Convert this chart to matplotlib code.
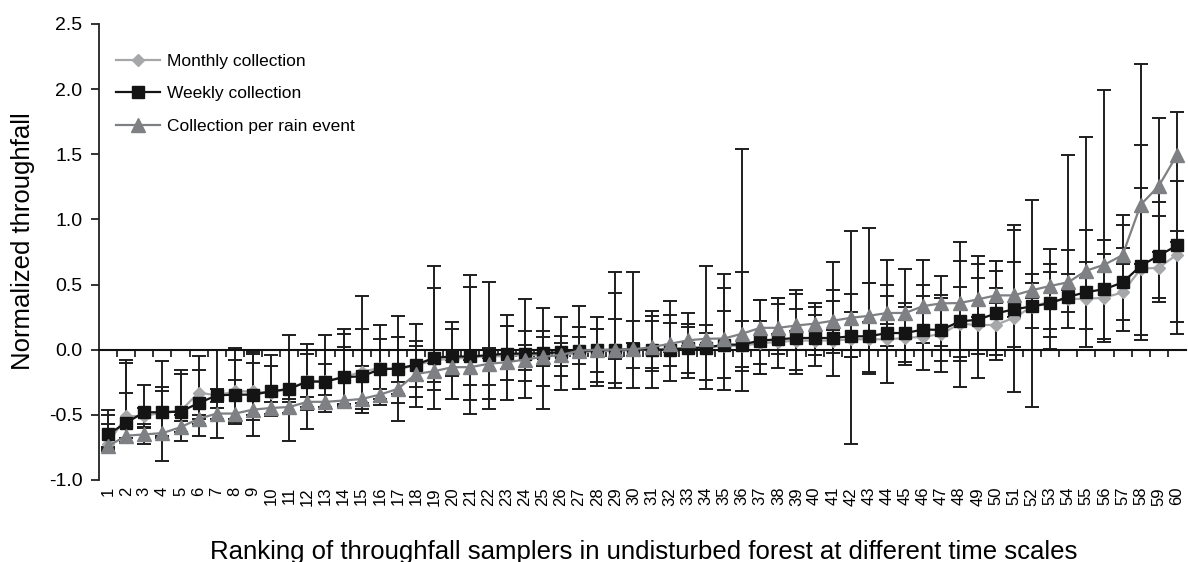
import numpy as np
import matplotlib
matplotlib.use("Agg")
import matplotlib.pyplot as plt
from matplotlib.ticker import FixedLocator, FormatStrFormatter

plt.rcParams['font.family'] = ['Liberation Sans', 'DejaVu Sans']

ranks = list(range(1, 61))

monthly = [-0.72,-0.51,-0.51,-0.48,-0.47,-0.33,-0.35,-0.32,-0.32,-0.33,
           -0.30,-0.24,-0.24,-0.21,-0.17,-0.14,-0.15,-0.12,-0.08,-0.07,
           -0.06,-0.05,-0.05,-0.04,-0.04,-0.05,-0.02,-0.01,-0.01,0.00,
           0.00,0.01,0.01,0.02,0.03,0.03,0.05,0.06,0.07,0.07,
           0.07,0.08,0.08,0.08,0.09,0.10,0.12,0.20,0.19,0.19,
           0.245,0.33,0.37,0.39,0.39,0.40,0.44,0.62,0.63,0.73]
weekly = [-0.65,-0.56,-0.48,-0.48,-0.475,-0.41,-0.35,-0.345,-0.345,-0.32,
          -0.30,-0.245,-0.245,-0.21,-0.205,-0.15,-0.145,-0.115,-0.062,-0.052,
          -0.052,-0.042,-0.03,-0.03,-0.026,-0.02,-0.01,-0.005,0.0,0.003,
          0.0,0.0,0.013,0.016,0.038,0.04,0.07,0.08,0.09,0.09,
          0.09,0.103,0.103,0.128,0.128,0.155,0.152,0.217,0.23,0.278,
          0.31,0.332,0.357,0.406,0.442,0.465,0.516,0.644,0.722,0.80]
rain = [-0.74,-0.66,-0.65,-0.64,-0.595,-0.53,-0.49,-0.49,-0.46,-0.447,
        -0.44,-0.40,-0.40,-0.39,-0.378,-0.345,-0.30,-0.186,-0.165,-0.134,
        -0.134,-0.108,-0.096,-0.076,-0.055,-0.04,-0.007,0.0,0.0,0.003,
        0.02,0.045,0.072,0.084,0.086,0.123,0.168,0.168,0.186,0.20,
        0.222,0.245,0.26,0.282,0.282,0.335,0.356,0.358,0.386,0.417,
        0.417,0.457,0.489,0.518,0.607,0.653,0.726,1.113,1.257,1.494]

# error bar ends (lower / upper cap positions)
weekly_lo = [-0.76,-0.715,-0.593,-0.856,-0.70,-0.662,-0.674,-0.567,-0.664,-0.51,
             -0.70,-0.608,-0.478,-0.44,-0.483,-0.427,-0.547,-0.44,-0.455,-0.375,
             -0.495,-0.455,-0.383,-0.373,-0.455,-0.306,-0.30,-0.28,-0.296,-0.296,
             -0.296,-0.243,-0.215,-0.30,-0.31,-0.32,-0.184,-0.14,-0.19,-0.128,
             -0.204,-0.725,-0.19,-0.258,-0.115,-0.156,-0.169,-0.284,-0.22,-0.079,
             -0.322,-0.442,0.005,0.17,0.018,0.056,0.146,0.077,0.363,0.12]
weekly_hi = [-0.465,-0.077,-0.268,-0.09,-0.153,-0.051,0.0,0.015,-0.018,-0.038,
             0.11,0.046,0.11,0.156,0.41,0.186,0.26,0.194,0.646,0.215,
             0.57,0.516,0.27,0.386,0.324,0.25,0.335,0.25,0.595,0.595,
             0.296,0.373,0.284,0.646,0.582,1.54,0.383,0.40,0.46,0.36,
             0.672,0.914,0.935,0.69,0.62,0.69,0.567,0.825,0.72,0.682,
             0.96,1.152,0.774,1.494,1.632,1.99,1.037,2.194,1.137,1.295]
monthly_lo = [-0.75,-0.708,-0.567,-0.66,-0.50,-0.529,-0.40,-0.554,-0.536,-0.503,
              -0.375,-0.465,-0.35,-0.43,-0.452,-0.40,-0.406,-0.363,-0.31,-0.375,
              -0.383,-0.375,-0.23,-0.24,-0.28,-0.204,-0.30,-0.248,-0.255,-0.143,
              -0.163,-0.128,-0.18,-0.23,-0.215,-0.163,-0.184,-0.03,-0.153,-0.043,
              -0.023,-0.056,-0.174,0.03,-0.097,0.05,-0.084,-0.089,-0.033,-0.038,
              0.018,0.17,0.095,0.286,0.158,0.082,0.227,0.115,0.396,0.209]
monthly_hi = [-0.503,-0.10,-0.45,-0.286,-0.189,-0.153,-0.30,-0.077,-0.036,-0.128,
              0.0,-0.036,0.0,0.117,0.156,0.08,0.10,0.07,0.47,0.156,
              0.48,0.015,0.18,0.143,0.143,0.105,0.174,0.16,0.437,0.22,
              0.255,0.27,0.2,0.186,0.47,0.595,0.383,0.40,0.43,0.327,
              0.46,0.424,0.513,0.493,0.36,0.493,0.42,0.682,0.66,0.605,
              0.917,0.58,0.66,0.764,0.917,0.84,0.958,1.244,1.027,0.912]
rain_lo = [-0.78,-0.68,-0.725,-0.68,-0.63,-0.567,-0.53,-0.53,-0.50,-0.49,
           -0.483,-0.44,-0.44,-0.42,-0.41,-0.38,-0.34,-0.286,-0.25,-0.20,
           -0.273,-0.273,-0.15,-0.153,-0.125,-0.128,-0.112,-0.169,-0.074,-0.05,
           -0.14,-0.02,0.03,0.04,0.03,-0.133,-0.112,0.12,0.14,-0.043,
           0.15,-0.056,0.21,0.2,0.23,0.28,0.03,-0.054,0.25,0.36,
           0.25,0.40,0.158,0.46,0.55,0.60,0.66,0.66,0.75,0.83]
rain_hi = [-0.567,-0.332,-0.60,-0.32,-0.55,-0.50,-0.45,-0.23,-0.10,-0.40,
           -0.40,-0.36,-0.112,0.02,-0.128,-0.30,-0.25,0.03,-0.10,-0.08,
           -0.08,-0.06,0.18,0.033,0.097,0.05,0.097,0.16,0.235,0.05,
           0.22,0.207,0.174,0.13,0.296,0.22,0.22,0.352,0.31,0.27,
           0.373,0.29,0.513,0.41,0.33,0.41,0.40,0.478,0.554,0.47,
           0.674,0.51,0.595,0.58,0.67,0.738,0.78,1.571,1.775,1.826]

yticks = [-1.0, -0.5, 0.0, 0.5, 1.0, 1.5, 2.0, 2.5]

W, H = 1188, 562
fig = plt.figure(figsize=(W/100, H/100), dpi=100)
# axis from x=0.5 (left spine) to x=60.5
ax = fig.add_axes([99/W, 82/H, 1087/W, 456/H])
ax.set_xlim(0.5, 60.5)
ax.set_ylim(-1.0, 2.5)

x = np.array(ranks)
series = [
    (monthly, monthly_lo, monthly_hi),
    (weekly, weekly_lo, weekly_hi),
    (rain, rain_lo, rain_hi),
]
for vals, lo, hi in series:
    v = np.array(vals)
    err = [np.clip(v - np.array(lo), 0, None), np.clip(np.array(hi) - v, 0, None)]
    ax.errorbar(x, v, yerr=err, fmt='none', ecolor='#1e1e1e', elinewidth=1.4,
                capsize=5, capthick=1.4, zorder=2)

ax.plot(x, monthly, color='#a6a7a9', marker='D', ms=6.5, lw=1.6,
        label='Monthly collection', zorder=3)
ax.plot(x, weekly, color='#141414', marker='s', ms=9, lw=1.6,
        label='Weekly collection', zorder=4)
ax.plot(x, rain, color='#7e8083', marker='^', ms=10, lw=1.6,
        label='Collection per rain event', zorder=5)

# axes styling
for s in ['top', 'right']:
    ax.spines[s].set_visible(False)
ax.spines['left'].set_linewidth(1.3)
ax.spines['left'].set_color('#222222')
ax.spines['bottom'].set_position(('data', 0))
ax.spines['bottom'].set_linewidth(1.5)
ax.spines['bottom'].set_color('#111111')

ax.set_yticks(yticks)
ax.yaxis.set_major_formatter(FormatStrFormatter('%.1f'))
ax.tick_params(axis='y', direction='out', length=6, width=1.3, labelsize=14,
               color='#222222', pad=6)

ax.set_xticks([])
ax.xaxis.set_minor_locator(FixedLocator(np.arange(1.5, 60.5, 1.0)))
ax.tick_params(axis='x', which='minor', direction='out', length=5, width=1.2,
               color='#111111', labelbottom=False)

sec = ax.secondary_xaxis(0.0)
sec.set_xticks(ranks)
sec.set_xticklabels([str(r) for r in ranks], rotation=90, fontsize=12)
sec.tick_params(axis='x', length=0, pad=5)
sec.spines['bottom'].set_visible(False)

leg = ax.legend(loc='upper left', bbox_to_anchor=(0.016, 0.935), frameon=False,
                fontsize=12.5, handlelength=2.5, handletextpad=0.4,
                labelspacing=1.0, borderpad=0, borderaxespad=0)

fig.text(644/W, 1 - 552/H, 'Ranking of throughfall samplers in undisturbed forest at different time scales',
         ha='center', va='center', fontsize=18.5)
fig.text(23/W, 1 - 241/H, 'Normalized throughfall', rotation=90,
         ha='center', va='center', fontsize=18.5)

fig.savefig('out.png', dpi=100)
